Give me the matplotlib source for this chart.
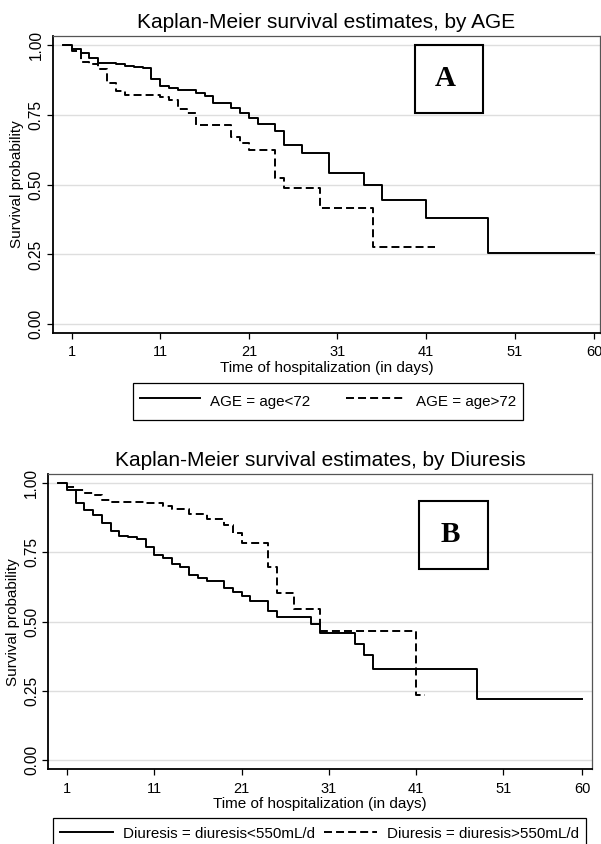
import matplotlib
matplotlib.use("Agg")
import matplotlib.pyplot as plt
from matplotlib.patches import Rectangle
from matplotlib.lines import Line2D

plt.rcParams['font.family'] = ['Liberation Sans', 'DejaVu Sans']

W, H = 601, 844

# Panel A: Kaplan-Meier by age group (day, survival at that day)
age_lt72_days = [0, 1, 2, 3, 4, 6, 7, 8, 9, 10, 11, 12, 13, 15, 16, 17, 19, 20,
                 21, 22, 24, 25, 27, 30, 34, 36, 41, 48, 60]
age_lt72_surv = [1.0, 0.985, 0.970, 0.952, 0.934, 0.931, 0.925, 0.922, 0.916,
                 0.878, 0.854, 0.847, 0.839, 0.829, 0.816, 0.791, 0.776, 0.758,
                 0.738, 0.716, 0.692, 0.642, 0.612, 0.541, 0.497, 0.446, 0.382,
                 0.254, 0.254]
age_gt72_days = [0, 1, 2, 3, 4, 5, 6, 7, 11, 12, 13, 14, 15, 19, 20, 21, 24, 25,
                 29, 35, 42]
age_gt72_surv = [1.0, 0.980, 0.938, 0.930, 0.914, 0.865, 0.836, 0.821, 0.813,
                 0.803, 0.770, 0.755, 0.714, 0.672, 0.650, 0.624, 0.523, 0.487,
                 0.417, 0.278, 0.278]

# Panel B: Kaplan-Meier by diuresis
diu_lt550_days = [0, 1, 2, 3, 4, 5, 6, 7, 8, 9, 10, 11, 12, 13, 14, 15, 16, 17,
                  19, 20, 21, 22, 24, 25, 29, 30, 34, 35, 36, 48, 60]
diu_lt550_surv = [1.0, 0.976, 0.930, 0.903, 0.885, 0.855, 0.829, 0.810, 0.805,
                  0.797, 0.768, 0.741, 0.731, 0.707, 0.698, 0.668, 0.658, 0.648,
                  0.622, 0.608, 0.593, 0.575, 0.538, 0.517, 0.491, 0.457, 0.419,
                  0.378, 0.328, 0.220, 0.220]
diu_gt550_days = [0, 1, 2, 3, 4, 5, 6, 10, 12, 13, 15, 17, 19, 20, 21, 24, 25,
                  27, 30, 41, 42]
diu_gt550_surv = [1.0, 0.988, 0.976, 0.967, 0.958, 0.940, 0.934, 0.928, 0.919,
                  0.906, 0.889, 0.871, 0.849, 0.819, 0.783, 0.698, 0.604, 0.544,
                  0.467, 0.233, 0.233]

x_ticks = [1, 11, 21, 31, 41, 51, 60]
y_ticks = [0.0, 0.25, 0.5, 0.75, 1.0]
y_ticklabels = ['0.00', '0.25', '0.50', '0.75', '1.00']

LW = 1.4
DASH = (0, (4.1, 2.1))


def fx(px):
    return px / W


def fy(py):
    return 1 - py / H


def add_axes_px(fig, left, top, right, bottom):
    return fig.add_axes([fx(left), fy(bottom), (right - left) / W, (bottom - top) / H])


def km_panel(ax, title, curves, xlim, ylim):
    for days, surv, ls in curves:
        ax.step(days, surv, where='post', color='black', lw=LW, linestyle=ls,
                zorder=3)
    ax.set_xlim(*xlim)
    ax.set_ylim(*ylim)
    ax.set_xticks(x_ticks)
    ax.set_yticks(y_ticks)
    ax.set_yticklabels(y_ticklabels, rotation=90, va='center')
    ax.tick_params(direction='out', length=4.3, width=0.9, labelsize=10.5,
                   pad=2.6)
    ax.tick_params(axis='x', pad=4.5)
    ax.tick_params(axis='y', labelsize=11.2, pad=2.2)
    ax.grid(axis='y', color='#dedede', lw=1.0, zorder=0)
    ax.set_axisbelow(True)
    for side in ('left', 'bottom'):
        ax.spines[side].set_linewidth(1.3)
        ax.spines[side].set_color('black')
    for side in ('top', 'right'):
        ax.spines[side].set_linewidth(0.9)
        ax.spines[side].set_color('#555555')
    ax.set_title(title, fontsize=15, pad=5.8)
    ax.set_ylabel('Survival probability', fontsize=11, labelpad=3.2)
    ax.set_xlabel('Time of hospitalization (in days)', fontsize=11, labelpad=1.0)


def panel_letter(fig, letter, left, top, right, bottom):
    fig.patches.append(Rectangle((fx(left), fy(bottom)), (right - left) / W,
                                 (bottom - top) / H, transform=fig.transFigure,
                                 fill=False, lw=1.5, ec='black'))
    fig.text(fx((left + right) / 2 - 3.5), fy((top + bottom) / 2 + 7), letter,
             family='Liberation Serif', weight='bold', fontsize=21,
             ha='center', va='baseline')


def legend_box(fig, labels, left, top, right, handlelen, handleheight):
    handles = [Line2D([], [], color='black', lw=LW),
               Line2D([], [], color='black', lw=LW, linestyle=DASH)]
    fig.legend(handles, labels, ncol=2, loc='upper left', mode='expand',
               bbox_to_anchor=(fx(left), fy(top), (right - left) / W, 0),
               bbox_transform=fig.transFigure, borderaxespad=0,
               fancybox=False, edgecolor='black', framealpha=1,
               fontsize=10.9, handlelength=handlelen, handletextpad=0.66,
               handleheight=handleheight,
               borderpad=0.45).get_frame().set_linewidth(0.9)


fig = plt.figure(figsize=(W / 100, H / 100), dpi=100)

ax_a = add_axes_px(fig, 52.7, 36, 600, 333)
km_panel(ax_a, 'Kaplan-Meier survival estimates, by AGE',
         [(age_lt72_days, age_lt72_surv, '-'),
          (age_gt72_days, age_gt72_surv, DASH)],
         (-1.144, 60.63), (-0.031, 1.032))
panel_letter(fig, 'A', 415, 45, 483.3, 113.3)
legend_box(fig, ['AGE = age<72', 'AGE = age>72'], 133, 382.7, 522.7, 3.97, 2.0)

ax_b = add_axes_px(fig, 48.3, 474, 592, 769.3)
km_panel(ax_b, 'Kaplan-Meier survival estimates, by Diuresis',
         [(diu_lt550_days, diu_lt550_surv, '-'),
          (diu_gt550_days, diu_gt550_surv, DASH)],
         (-1.142, 61.14), (-0.035, 1.034))
panel_letter(fig, 'B', 419.3, 500.7, 488.3, 569.3)
legend_box(fig, ['Diuresis = diuresis<550mL/d', 'Diuresis = diuresis>550mL/d'],
           53.3, 818.3, 585.7, 3.5, 1.3)

fig.savefig('out.png', dpi=100)
